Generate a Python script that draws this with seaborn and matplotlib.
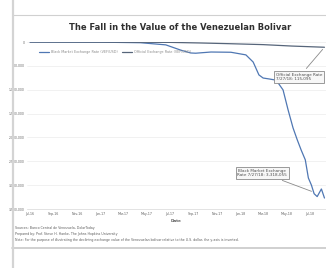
import matplotlib
matplotlib.use("Agg")
import matplotlib.pyplot as plt
import matplotlib.dates as mdates
import pandas as pd
import seaborn as sns

# values (bolivars per US dollar, axis inverted)
black_dates = ["2016-07-01", "2016-09-18", "2016-12-31", "2017-04-15", "2017-06-20",
               "2017-07-29", "2017-08-24", "2017-09-06", "2017-10-16", "2017-12-07",
               "2018-01-15", "2018-02-03", "2018-02-18", "2018-03-01", "2018-03-17",
               "2018-04-04", "2018-04-22", "2018-05-05", "2018-05-18", "2018-05-29",
               "2018-06-08", "2018-06-19", "2018-06-27", "2018-07-05", "2018-07-12",
               "2018-07-20", "2018-07-31", "2018-08-08"]
black_rate = [1000, 2000, 3500, 15000, 60000,
              170000, 230000, 235000, 210000, 215000,
              270000, 420000, 690000, 755000, 775000,
              800000, 1005000, 1420000, 1800000, 2050000,
              2260000, 2470000, 2850000, 3000000, 3180000,
              3240000, 3080000, 3270000]
official_dates = ["2016-07-01", "2017-01-01", "2017-07-01", "2017-09-15", "2017-12-01",
                  "2018-03-01", "2018-05-15", "2018-08-08"]
official_rate = [700, 3000, 8000, 20000, 35000, 55000, 85000, 110000]

tick_dates = ["2016-07-01", "2016-09-01", "2016-11-01", "2017-01-01", "2017-03-01",
              "2017-05-01", "2017-07-01", "2017-09-01", "2017-11-01", "2018-01-01",
              "2018-03-01", "2018-05-01", "2018-07-01"]
y_ticks = [0, 500000, 1000000, 1500000, 2000000, 2500000, 3000000, 3500000]

BLACK = "Black Market Exchange Rate (VEF/USD)"
OFFICIAL = "Official Exchange Rate (VEF/USD)"

df = pd.concat([
    pd.DataFrame({"date": pd.to_datetime(black_dates), "rate": black_rate, "series": BLACK}),
    pd.DataFrame({"date": pd.to_datetime(official_dates), "rate": official_rate, "series": OFFICIAL}),
])

sns.set_style("white")
plt.rcParams["font.family"] = ["DejaVu Sans"]

fig = plt.figure(figsize=(3.26, 2.68), dpi=100)
ax = fig.add_axes([27 / 326, 1 - 209 / 268, (326 - 27) / 326, (209 - 42) / 268])

sns.lineplot(data=df, x="date", y="rate", hue="series",
             palette={BLACK: "#4f77b3", OFFICIAL: "#56657a"},
             hue_order=[BLACK, OFFICIAL], linewidth=0.9, ax=ax)

ax.set_ylim(3500000, 0)
ax.set_xlim(pd.Timestamp("2016-06-23"), pd.Timestamp("2018-08-12"))
ax.set_yticks(y_ticks)
ax.set_yticklabels([f"{v:,}" for v in y_ticks], fontsize=2.2, color="#606060")
ax.set_xticks(pd.to_datetime(tick_dates))
ax.xaxis.set_major_formatter(mdates.DateFormatter("%b-%y"))
ax.tick_params(axis="x", labelsize=2.3, labelcolor="#606060", length=0, pad=2)
ax.tick_params(axis="y", length=0, pad=1.5)
ax.grid(axis="y", color="#ececec", linewidth=0.5)
for s in ["top", "right", "left"]:
    ax.spines[s].set_visible(False)
ax.spines["bottom"].set_color("#d8d8d8")
ax.spines["bottom"].set_linewidth(0.5)
ax.set_xlabel("Date", fontsize=3.0, color="#606060", fontweight="bold", labelpad=2.5)
ax.set_ylabel("")

ax.legend(loc="upper left", bbox_to_anchor=(0.03, 0.97), ncol=2, frameon=False,
          fontsize=2.4, labelcolor="#8a8a8a", handlelength=3, columnspacing=1.5,
          handletextpad=0.5)

box = dict(boxstyle="square,pad=0.45", fc="#f7f7f7", ec="#8a8a8a", lw=0.6)
ax.annotate("Official Exchange Rate\n7/27/18: 115,095",
            xy=(pd.Timestamp("2018-08-08"), 110000),
            xytext=(pd.Timestamp("2018-04-03"), 735000),
            fontsize=3.0, color="#505050", ha="left", va="center", bbox=box,
            arrowprops=dict(arrowstyle="-", color="#8a8a8a", lw=0.6))
ax.annotate("Black Market Exchange\nRate 7/27/18: 3,318,055",
            xy=(pd.Timestamp("2018-07-12"), 3150000),
            xytext=(pd.Timestamp("2018-02-27"), 2745000),
            fontsize=3.0, color="#505050", ha="center", va="center", bbox=box,
            arrowprops=dict(arrowstyle="-", color="#8a8a8a", lw=0.6))

fig.text(180 / 326, 1 - 28 / 268, "The Fall in the Value of the Venezuelan Bolivar",
         ha="center", va="center", fontsize=6.0, fontweight="bold", color="#303030")

notes = [
    "Sources: Banco Central de Venezuela, DolarToday",
    "Prepared by: Prof. Steve H. Hanke, The Johns Hopkins University",
    "Note: For the purpose of illustrating the declining exchange value of the Venezuelan bolivar relative to the U.S. dollar, the y-axis is inverted.",
]
for yy, t in zip([228, 233.5, 240], notes):
    fig.text(15 / 326, 1 - yy / 268, t, ha="left", va="center", fontsize=2.3, color="#606060")

# frame lines of the pasted chart
fig.add_artist(plt.Line2D([12 / 326, 1], [1 - 15 / 268] * 2, color="#d0d0d0", lw=0.8))
fig.add_artist(plt.Line2D([12 / 326, 1], [1 - 248 / 268] * 2, color="#c8c8c8", lw=1.2))
fig.add_artist(plt.Line2D([13 / 326] * 2, [0, 1], color="#d4d4d4", lw=1.6))

fig.savefig("out.png", dpi=100)
